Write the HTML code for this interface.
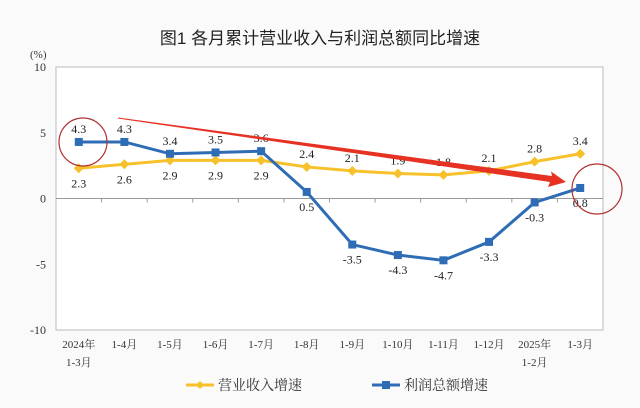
<!DOCTYPE html>
<html><head><meta charset="utf-8"><style>
body{margin:0;background:#fff}
svg{display:block;font-family:"Liberation Serif","Noto Serif CJK SC",serif}
</style></head><body>
<svg id="c" width="640" height="408" viewBox="0 0 640 408">
<rect x="0" y="0" width="640" height="408" fill="#fafafa"/>
<text x="320" y="44" font-size="17" text-anchor="middle" font-family="'Liberation Sans','Noto Sans CJK SC',sans-serif" fill="#222">图1  各月累计营业收入与利润总额同比增速</text>
<text x="30" y="58" font-size="11" fill="#333">(%)</text>
<rect x="56" y="67" width="547" height="263" fill="#fff" stroke="#bbb"/>
<g id="g"></g>
</svg>
<script>
const categories=["2024年|1-3月","1-4月","1-5月","1-6月","1-7月","1-8月","1-9月","1-10月","1-11月","1-12月","2025年|1-2月","1-3月"];
const revenue=[2.3,2.6,2.9,2.9,2.9,2.4,2.1,1.9,1.8,2.1,2.8,3.4];
const profit=[4.3,4.3,3.4,3.5,3.6,0.5,-3.5,-4.3,-4.7,-3.3,-0.3,0.8];
const yTicks=[10,5,0,-5,-10];
const revLabelAbove=[0,0,0,0,0,1,1,1,1,1,1,1];
const profLabelAbove=[1,1,1,1,1,0,0,0,0,0,0,0];
const NS="http://www.w3.org/2000/svg",g=document.getElementById('g');
const L=56,W=547,T=67,B=330;
const x=i=>L+W/categories.length*(i+0.5);
const y=v=>T+(10-v)/20*(B-T);
function mk(t,a,txt){const e=document.createElementNS(NS,t);for(const k in a)e.setAttribute(k,a[k]);if(txt!==undefined)e.textContent=txt;g.appendChild(e);return e;}
yTicks.forEach(v=>{const e=mk('text',{x:46,y:y(v)+4,'font-size':12,'text-anchor':'end',fill:'#333'},v);

});
let zl=mk('line',{x1:L,x2:L+W,y1:y(0),y2:y(0),stroke:'#999'});


categories.forEach((c,i)=>{const p=c.split('|');
if(i>0){const tk=mk('line',{x1:L+W/12*i,x2:L+W/12*i,y1:y(0),y2:y(0)+4,stroke:'#999'});

}
p.forEach((s,j)=>{const e=mk('text',{x:x(i),y:348+j*18,'font-size':11,'text-anchor':'middle',fill:'#333'},s);

});});
function series(data,col,name,above,marker){
 const pl=mk('polyline',{points:data.map((v,i)=>x(i)+','+y(v)).join(' '),fill:'none',stroke:col,'stroke-width':3});
 
 
 data.forEach((v,i)=>{let m;
  if(marker==='d')m=mk('polygon',{points:`${x(i)},${y(v)-5} ${x(i)+5},${y(v)} ${x(i)},${y(v)+5} ${x(i)-5},${y(v)}`,fill:col});
  else m=mk('rect',{x:x(i)-4,y:y(v)-4,width:8,height:8,fill:col});
  
  
  const t=mk('text',{x:x(i),y:above[i]?y(v)-9:y(v)+19,'font-size':12,'text-anchor':'middle',fill:'#222'},v.toFixed(1));
  
  });
}
series(revenue,'#f7c12b','revenue',revLabelAbove,'d');
series(profit,'#2e6db5','profit',profLabelAbove,'s');
// arrow (annotation): tapered shaft + head
let ar=mk('polygon',{points:'118,117.5 552,176 551,171.5 566,182 548,187 550,182 118,118.5',fill:'#e53222'});


[[83,142,24],[597,189,25]].forEach(([cx,cy,r])=>{const c=mk('circle',{cx:cx,cy:cy,r:r,fill:'none',stroke:'#b03030','stroke-width':1.2});

});
// legend
[[186,'#f7c12b','营业收入增速','d'],[372,'#2e6db5','利润总额增速','s']].forEach(([lx,col,txt,mt])=>{
 const l=mk('line',{x1:lx,x2:lx+28,y1:385,y2:385,stroke:col,'stroke-width':3});
 
 
 const m=mt==='d'?mk('polygon',{points:`${lx+14},381 ${lx+18},385 ${lx+14},389 ${lx+10},385`,fill:col}):mk('rect',{x:lx+10,y:381,width:8,height:8,fill:col});
 
 
 const t=mk('text',{x:lx+32,y:390,'font-size':14,fill:'#333'},txt);
 
 });
</script>
</body></html>
